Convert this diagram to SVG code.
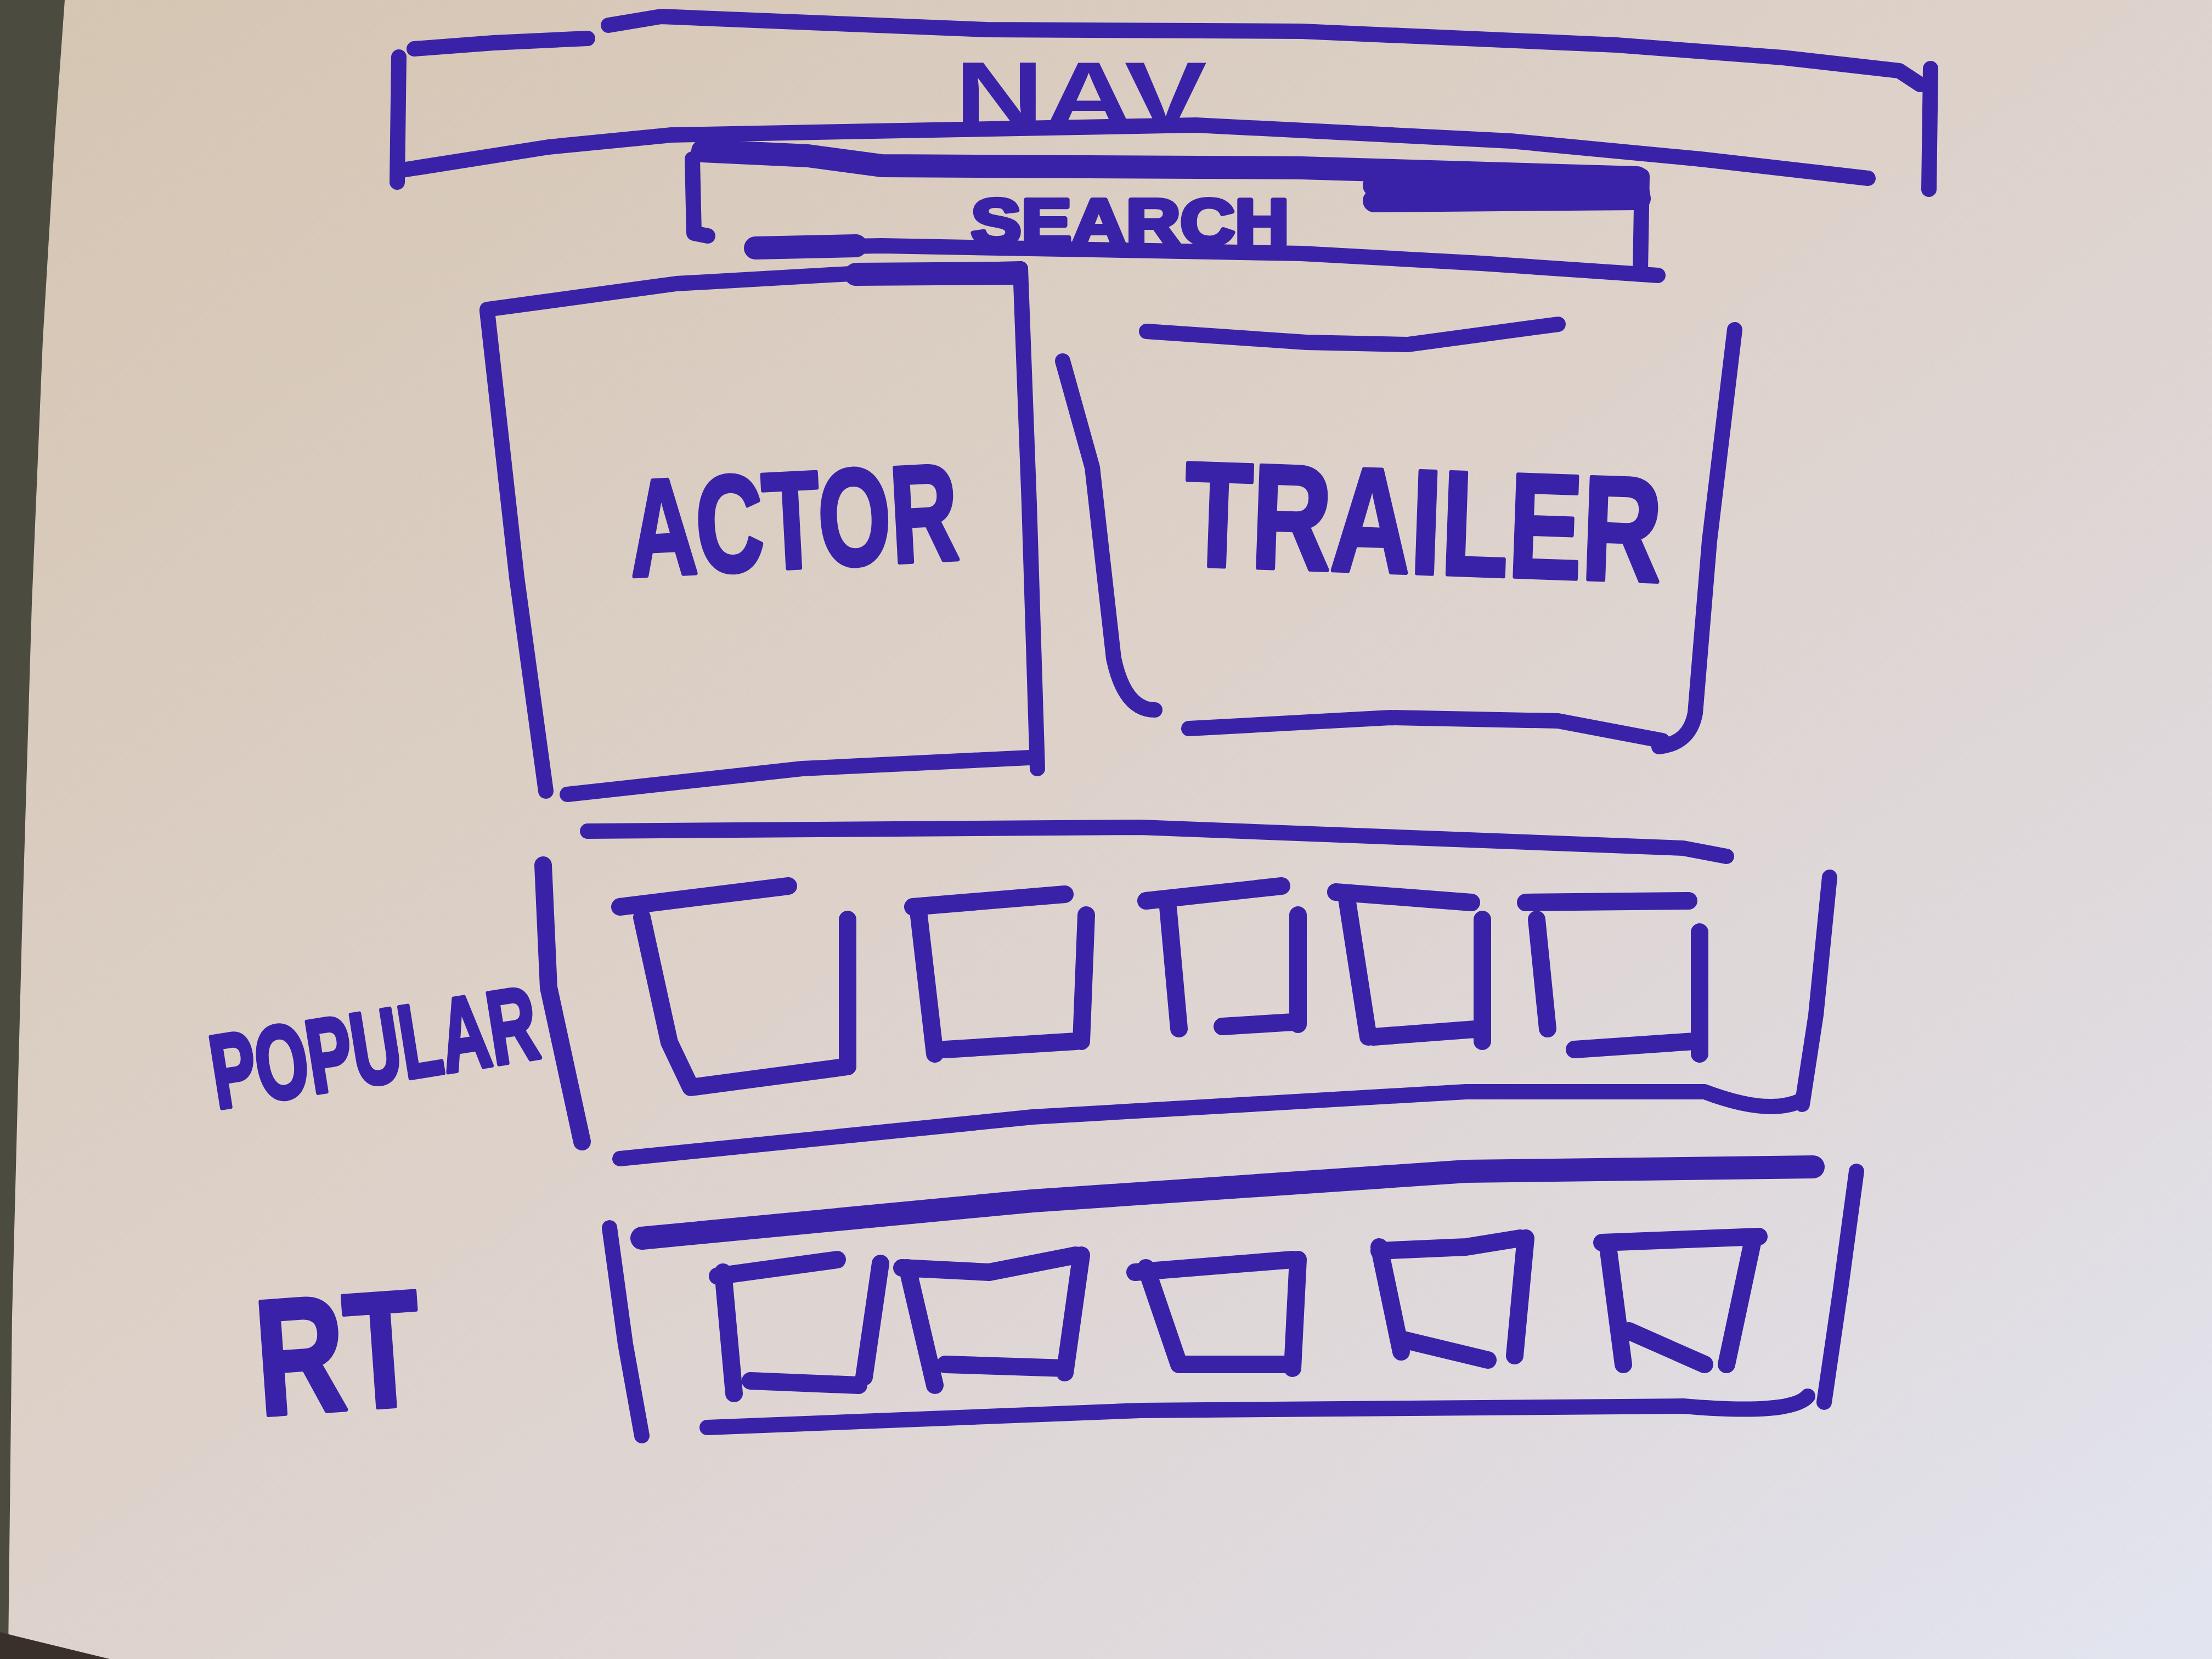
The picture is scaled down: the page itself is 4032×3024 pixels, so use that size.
<svg xmlns="http://www.w3.org/2000/svg" width="4032" height="3024" viewBox="0 0 4032 3024">
<defs>
<linearGradient id="paper" x1="0" y1="0" x2="1" y2="1">
<stop offset="0" stop-color="#d5c5b2"/>
<stop offset="0.45" stop-color="#ddd1c9"/>
<stop offset="0.8" stop-color="#e0dbe0"/>
<stop offset="1" stop-color="#e2e5f0"/>
</linearGradient>
<style>
.m{fill:none;stroke:#3a22a8;stroke-width:28;stroke-linecap:round;stroke-linejoin:round}
.b{stroke-width:32}
.k{stroke-width:42}
.t{fill:#3a22a8;font-family:"Liberation Sans","DejaVu Sans",Arial,sans-serif;font-weight:bold;text-anchor:middle}
.h{stroke:#3a22a8;stroke-width:8;stroke-linejoin:round}
</style>
</defs>
<rect x="0" y="0" width="4032" height="3024" fill="url(#paper)"/>
<polygon points="0,0 118,0 100,250 78,620 58,1100 40,1700 22,2400 15,3010 0,3024" fill="#4b4b40"/>
<polygon points="0,2975 40,2985 200,3024 0,3024" fill="#3a302a"/>

<g id="nav">
<path class="m" d="M755,89 L900,78 L1071,70"/>
<path class="m" d="M1109,46 L1205,30 L1500,42 L1798,54 L2372,57 L2946,82 L3250,105 L3462,129 L3500,154"/>
<path class="m" d="M727,104 L724,332"/>
<path class="m" d="M727,311 L1000,268 L1224,246 L2180,228 L2754,257 L3100,290 L3405,325"/>
<path class="m" d="M3519,125 L3516,345"/>
<text class="t" x="1970" y="232" font-size="170" textLength="460" lengthAdjust="spacingAndGlyphs">NAV</text>
</g>

<g id="search">
<path class="m k" d="M1281,275 L1473,284 L1607,302 L2372,306 L2984,324"/>
<path class="m k" d="M2505,338 L2984,340 L2988,362 L2505,366"/>
<path class="m" d="M1262,290 L1265,425 L1290,430"/>
<path class="m k" d="M1377,452 L1560,448"/>
<path class="m" d="M1377,452 L1607,448 L2372,462 L2700,480 L3022,502"/>
<path class="m" d="M2993,321 L2990,494"/>
<text class="t h" x="2060" y="446" font-size="118" textLength="580" lengthAdjust="spacingAndGlyphs">SEARCH</text>
</g>

<g id="actor">
<path class="m" d="M888,567 L942,1053 L995,1442"/>
<path class="m" d="M888,564 L1233,517 L1585,497 L1860,490"/>
<path class="m k" d="M1560,500 L1850,498"/>
<path class="m" d="M1860,490 L1876,919 L1891,1401"/>
<path class="m" d="M1034,1448 L1462,1401 L1876,1381"/>
<text class="t h" x="1445" y="1035" font-size="250" textLength="600" lengthAdjust="spacingAndGlyphs" transform="rotate(-3 1445 930)">ACTOR</text>
</g>

<g id="trailer">
<path class="m" d="M1937,658 L1991,852 L2030,1200 Q2050,1294 2105,1294"/>
<path class="m" d="M2090,604 L2381,624 L2565,628 L2840,591"/>
<path class="m" d="M3162,601 L3116,986 L3090,1300 Q3080,1355 3024,1361"/>
<path class="m" d="M2167,1328 L2534,1308 L2840,1314 L3030,1350"/>
<text class="t h" x="2595" y="1045" font-size="270" textLength="870" lengthAdjust="spacingAndGlyphs" transform="rotate(2 2595 930)">TRAILER</text>
</g>

<g id="popular">
<path class="m" d="M1071,1515 L2079,1508 L3068,1546 L3147,1561"/>
<path class="m b" d="M990,1577 L1000,1800 L1061,2081"/>
<path class="m" d="M1130,2112 L1882,2036 L2672,1990 L3107,1990 Q3226,2035 3285,2005"/>
<path class="m" d="M3335,1599 L3310,1850 L3285,2013"/>
<text class="t h" x="680" y="1975" font-size="190" textLength="600" lengthAdjust="spacingAndGlyphs" transform="rotate(-9 680 1900)">POPULAR</text>
<g id="pop1"><path class="m b" d="M1130,1653 L1437,1615 M1170,1672 L1220,1900 L1259,1982 L1545,1944 M1545,1676 L1545,1944"/></g>
<g id="pop2"><path class="m b" d="M1664,1653 L1941,1630 M1674,1661 L1704,1921 M1723,1913 L1961,1898 M1980,1668 L1971,1898"/></g>
<g id="pop3"><path class="m b" d="M2089,1642 L2336,1615 M2129,1653 L2149,1875 M2228,1871 L2356,1863 M2366,1668 L2366,1867"/></g>
<g id="pop4"><path class="m b" d="M2435,1626 L2682,1645 M2455,1638 L2494,1890 M2504,1890 L2702,1875 M2702,1676 L2702,1898"/></g>
<g id="pop5"><path class="m b" d="M2781,1645 L3078,1642 M2801,1676 L2821,1875 M2870,1913 L3088,1898 M3098,1699 L3098,1921"/></g>
</g>

<g id="rt">
<path class="m k" d="M1170,2257 L1882,2189 L2672,2135 L3305,2127"/>
<path class="m" d="M1111,2238 L1140,2450 L1170,2617"/>
<path class="m" d="M1289,2602 L2079,2571 L3068,2563 Q3265,2580 3295,2545"/>
<path class="m" d="M3384,2135 L3355,2350 L3325,2556"/>
<text class="t h" x="615" y="2570" font-size="300" textLength="300" lengthAdjust="spacingAndGlyphs" transform="rotate(-4 615 2450)">RT</text>
<g id="rt1"><path class="m b" d="M1308,2326 L1526,2296 M1318,2319 L1338,2540 M1368,2517 L1565,2525 M1605,2303 L1575,2510"/></g>
<g id="rt2"><path class="m b" d="M1644,2311 L1803,2319 L1961,2288 M1654,2311 L1704,2525 M1723,2487 L1941,2494 M1971,2288 L1941,2502"/></g>
<g id="rt3"><path class="m b" d="M2069,2319 L2356,2296 M2089,2311 L2149,2487 M2149,2487 L2356,2487 M2366,2296 L2356,2494"/></g>
<g id="rt4"><path class="m b" d="M2514,2280 L2672,2273 L2771,2257 M2514,2273 L2554,2464 M2554,2441 L2712,2479 M2781,2257 L2761,2471"/></g>
<g id="rt5"><path class="m b" d="M2920,2265 L3206,2254 M2930,2265 L2959,2487 M2969,2426 L3107,2487 M3196,2257 L3147,2487"/></g>
</g>
</svg>
